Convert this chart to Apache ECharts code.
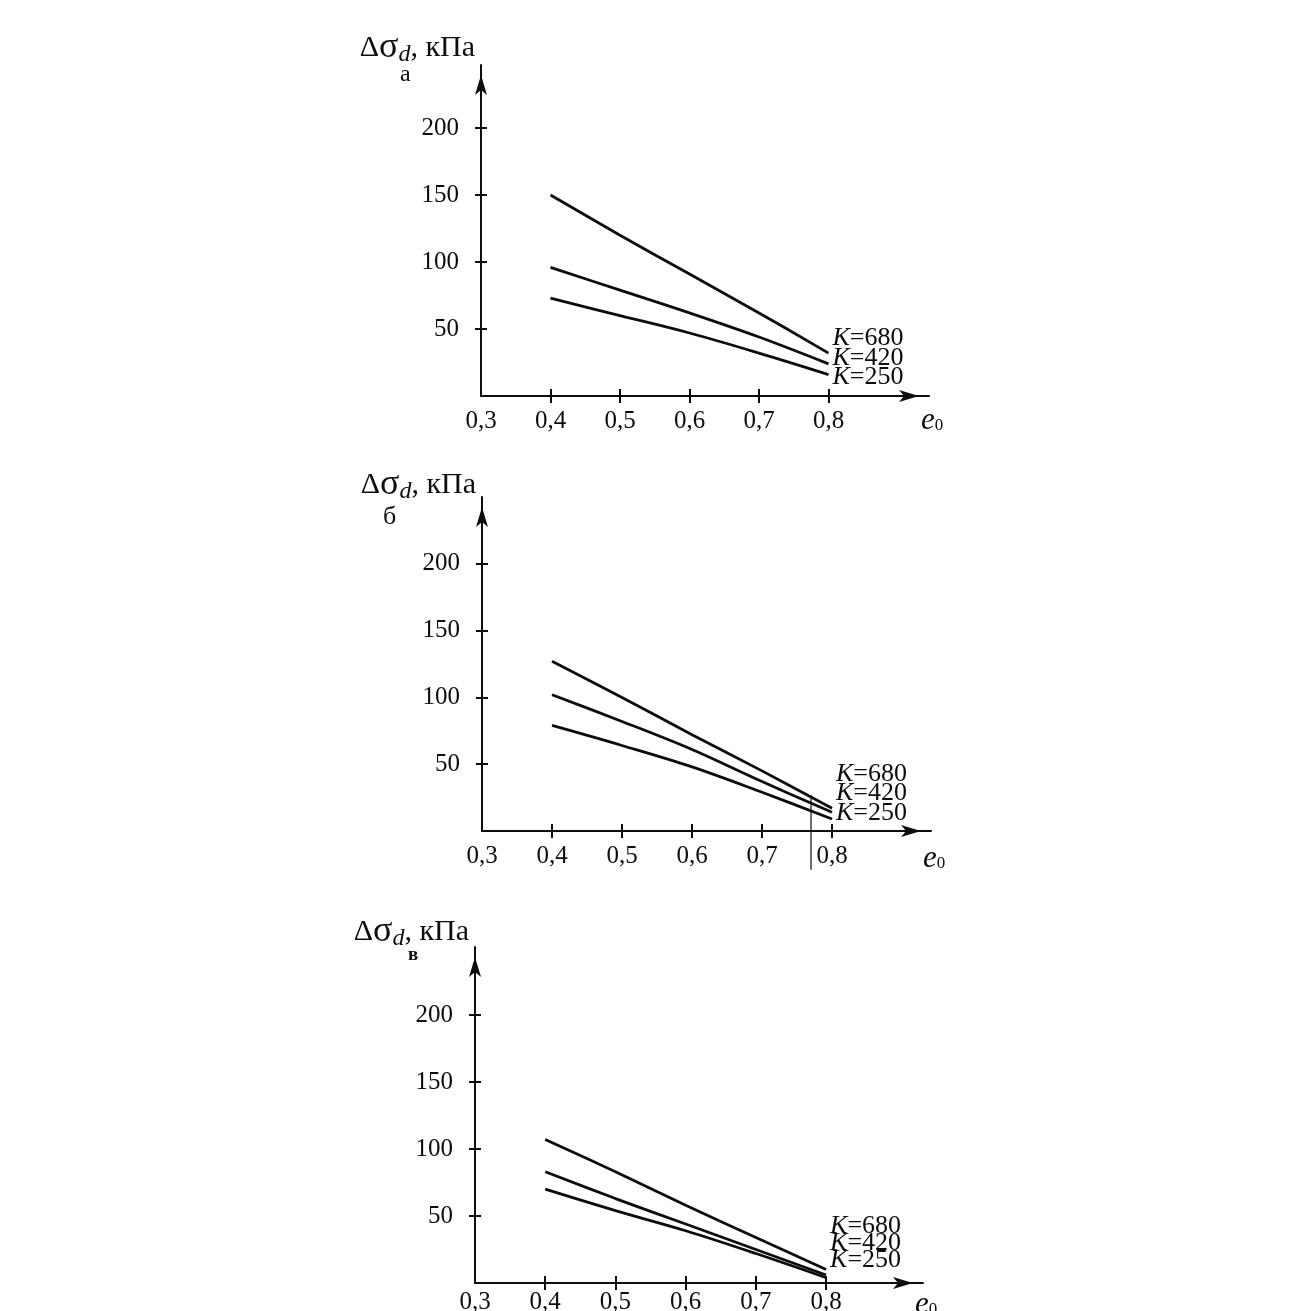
<!DOCTYPE html>
<html><head><meta charset="utf-8">
<script src="https://cdn.jsdelivr.net/npm/echarts@6/dist/echarts.min.js"></script>
<style>html,body{margin:0;padding:0;background:#fff}#c{width:1290px;height:1311px}</style>
</head><body><div id="c"></div>
<script>
// ---- data ----
const eValues = [0.4, 0.5, 0.6, 0.7, 0.8];
const xTickLabels = [0.3, 0.4, 0.5, 0.6, 0.7, 0.8];
const xTickMarks = [0.4, 0.5, 0.6, 0.7, 0.8];
const yTickLabels = [50, 100, 150, 200];
const kNames = ['K=680', 'K=420', 'K=250'];
const panelLetters = ['а', 'б', 'в'];
// panel а
const a680 = [150, 120, 91, 62, 32];
const a420 = [96, 79, 62, 44, 24];
const a250 = [73, 60, 47, 32, 16];
// panel б
const b680 = [127, 100, 72, 45, 17];
const b420 = [102, 82, 61, 37, 14];
const b250 = [79, 64, 48, 29, 9];
// panel в
const c680 = [107, 83, 58, 34, 10];
const c420 = [83, 63, 44, 25, 6];
const c250 = [70, 54, 39, 22, 4];
// thin vertical stroke in panel б
const bStrokeX = [0.77, 0.77];
const bStrokeY = [27, -29];

// ---- layout ----
const SERIF = '"Liberation Serif","DejaVu Serif",serif';
const INK = '#0d0d0d';
const panels = [
  {left: 481, top: 65, width: 448, height: 331, xMax: 0.9446, yMax: 247,
   data: [a680, a420, a250], kOff: [-15, -6, 3], nameGap: 17, xMargin: 13, ePad: 9,
   letter: {x: 400, y: 75, size: 24, weight: 'normal'}},
  {left: 482, top: 497, width: 449, height: 334, xMax: 0.9414, yMax: 250,
   data: [b680, b420, b250], kOff: [-34, -19, -6], nameGap: 12, xMargin: 13, ePad: 12,
   letter: {x: 383, y: 517, size: 26, weight: 'normal'}},
  {left: 475, top: 947, width: 448, height: 336, xMax: 0.938, yMax: 250.7,
   data: [c680, c420, c250], kOff: [-43, -32, -17], nameGap: 15, xMargin: 7, ePad: 6,
   letter: {x: 408, y: 955, size: 19, weight: 'bold'}}
];

const grids = [], xAxes = [], yAxes = [], series = [], graphics = [];
const fmtX = v => Number(v).toFixed(1).replace('.', ',');

panels.forEach((p, i) => {
  grids.push({left: p.left, top: p.top, width: p.width, height: p.height,
    containLabel: false, outerBoundsMode: 'none'});
  xAxes.push({type: 'value', gridIndex: i, min: 0.3, max: p.xMax, interval: 0.1,
    splitLine: {show: false},
    axisLine: {show: true, onZero: false, lineStyle: {color: INK, width: 2},
      symbol: ['none', 'arrow'], symbolSize: [9, 20], symbolOffset: [0, -10]},
    axisTick: {show: true, customValues: xTickMarks, length: 7, lineStyle: {color: INK, width: 2}},
    axisLabel: {show: true, customValues: xTickLabels, formatter: fmtX, margin: p.xMargin,
      fontFamily: SERIF, fontSize: 25, color: INK},
    name: '{e|e}{z|0}', nameLocation: 'end', nameGap: -8,
    nameTextStyle: {align: 'left', verticalAlign: 'top', padding: [p.ePad, 0, 0, 0],
      rich: {e: {fontFamily: SERIF, fontStyle: 'italic', fontSize: 31, color: INK},
             z: {fontFamily: SERIF, fontSize: 17, color: INK, padding: [10, 0, 0, 0]}}}
  });
  xAxes.push({type: 'value', gridIndex: i, min: 0.3, max: p.xMax, interval: 0.1, position: 'bottom',
    splitLine: {show: false}, axisLine: {show: false},
    axisTick: {show: true, inside: true, customValues: xTickMarks, length: 7, lineStyle: {color: INK, width: 2}},
    axisLabel: {show: false}});
  yAxes.push({type: 'value', gridIndex: i, min: 0, max: p.yMax, interval: 50,
    splitLine: {show: false},
    axisLine: {show: true, onZero: false, lineStyle: {color: INK, width: 2},
      symbol: ['none', 'arrow'], symbolSize: [9, 20], symbolOffset: [0, -10]},
    axisTick: {show: true, customValues: yTickLabels, length: 6, lineStyle: {color: INK, width: 2}},
    axisLabel: {show: true, customValues: yTickLabels, margin: 22,
      fontFamily: SERIF, fontSize: 25, color: INK},
    name: '{D|Δ}{s|σ}{d|d}{c|, кПа}', nameLocation: 'end', nameGap: p.nameGap,
    nameTextStyle: {align: 'right', verticalAlign: 'middle', padding: [0, 6, 0, 0],
      rich: {D: {fontFamily: SERIF, fontSize: 30, color: INK},
             s: {fontFamily: SERIF, fontSize: 36, color: INK},
             d: {fontFamily: SERIF, fontStyle: 'italic', fontSize: 24, color: INK, padding: [14, 0, 0, 0]},
             c: {fontFamily: SERIF, fontSize: 30, color: INK}}}
  });
  yAxes.push({type: 'value', gridIndex: i, min: 0, max: p.yMax, interval: 50, position: 'left',
    splitLine: {show: false}, axisLine: {show: false},
    axisTick: {show: true, inside: true, customValues: yTickLabels, length: 6, lineStyle: {color: INK, width: 2}},
    axisLabel: {show: false}});

  p.data.forEach((vals, k) => {
    series.push({type: 'line', name: kNames[k], xAxisIndex: 2 * i, yAxisIndex: 2 * i,
      data: eValues.map((e, j) => [e, vals[j]]),
      smooth: 0.35, showSymbol: false, symbol: 'none', silent: true,
      lineStyle: {color: INK, width: 2.8},
      endLabel: {show: true, distance: 4, offset: [0, p.kOff[k]],
        formatter: () => '{k|K}{t|' + kNames[k].slice(1) + '}',
        rich: {k: {fontFamily: SERIF, fontStyle: 'italic', fontSize: 26, color: INK},
               t: {fontFamily: SERIF, fontSize: 26, color: INK}}}
    });
  });

  graphics.push({type: 'text', left: p.letter.x, top: p.letter.y - p.letter.size / 2,
    style: {text: panelLetters[i], font: p.letter.weight + ' ' + p.letter.size + 'px ' + SERIF, fill: INK}});
});

series.push({type: 'line', xAxisIndex: 2, yAxisIndex: 2, clip: false, silent: true,
  data: bStrokeX.map((x, j) => [x, bStrokeY[j]]), showSymbol: false, symbol: 'none',
  lineStyle: {color: INK, width: 1.2}});

const chart = echarts.init(document.getElementById('c'), null, {renderer: 'canvas'});
chart.setOption({
  backgroundColor: '#ffffff',
  animation: false,
  grid: grids, xAxis: xAxes, yAxis: yAxes, series: series, graphic: graphics
});
</script></body></html>
